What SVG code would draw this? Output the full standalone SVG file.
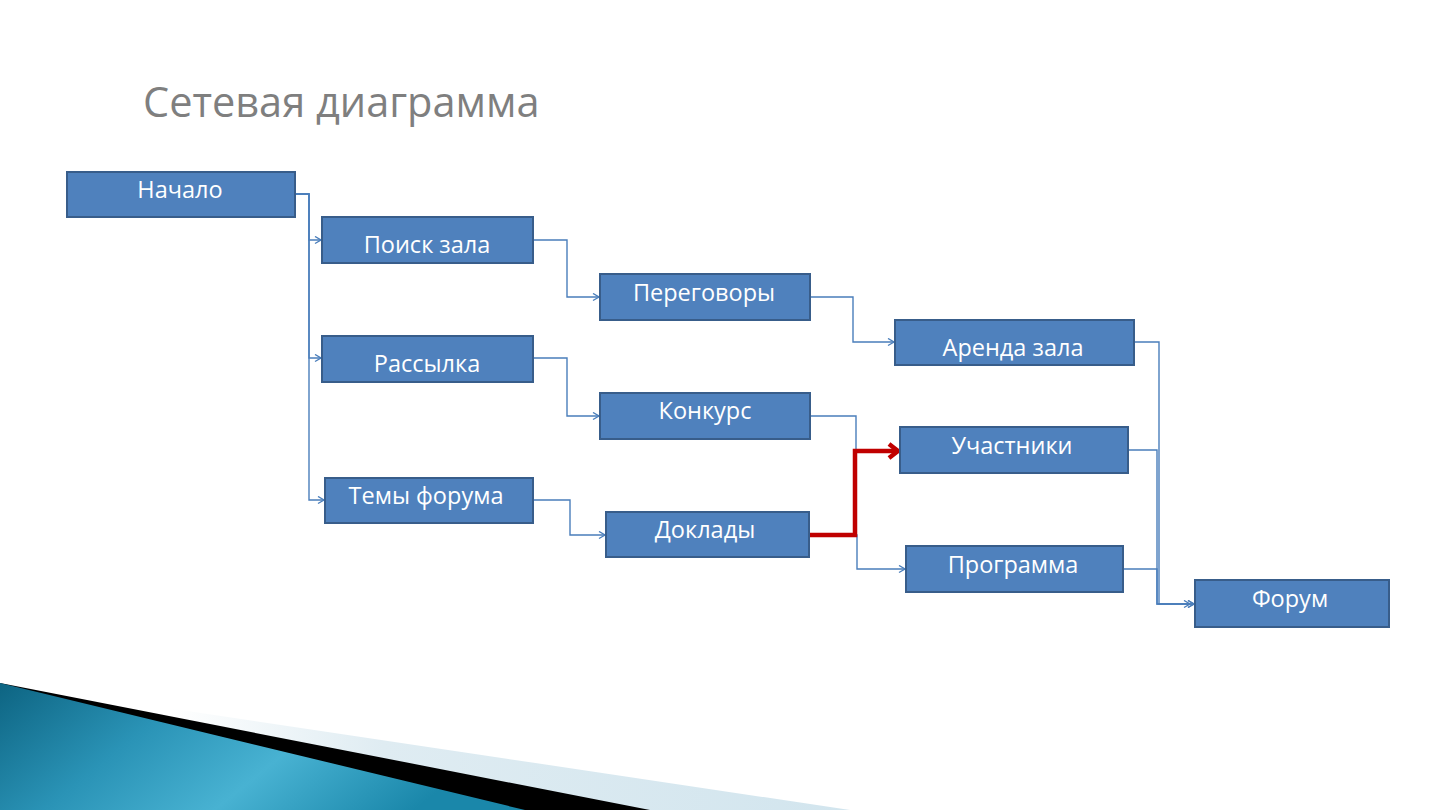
<svg xmlns="http://www.w3.org/2000/svg" width="1440" height="810" viewBox="0 0 1440 810">
<style>
.node rect{fill:#4f81bd;stroke:#385d8a;stroke-width:2}
.node text{fill:#ffffff;font-family:"Open Sans","Liberation Sans",sans-serif;font-size:23.5px;text-anchor:middle}
.title{fill:#7f7f7f;font-family:"Open Sans","Liberation Sans",sans-serif;font-size:41.5px}
.c{fill:none;stroke:#4a7ebb;stroke-width:1.4;marker-end:url(#ah)}
.crit{fill:none;stroke:#c00000;stroke-width:4.5;marker-end:url(#ahr)}
</style>
<defs>
<marker id="ah" markerUnits="userSpaceOnUse" markerWidth="10" markerHeight="10" refX="7" refY="4" orient="auto">
<path d="M1,0.5 L7,4 L1,7.5" fill="none" stroke="#4a7ebb" stroke-width="1.4"/>
</marker>
<marker id="ahr" markerUnits="userSpaceOnUse" markerWidth="20" markerHeight="20" refX="12" refY="9" orient="auto">
<path d="M3,2 L12,9 L3,16" fill="none" stroke="#c00000" stroke-width="4.5"/>
</marker>
<linearGradient id="lb" x1="0" y1="0" x2="1" y2="0">
<stop offset="0" stop-color="#ffffff"/>
<stop offset="0.2" stop-color="#ffffff"/>
<stop offset="0.45" stop-color="#dfecf2"/>
<stop offset="1" stop-color="#d2e5ee"/>
</linearGradient>
<linearGradient id="bg" x1="0" y1="0" x2="1" y2="0.3">
<stop offset="0" stop-color="#0d6482"/>
<stop offset="0.35" stop-color="#2a93b6"/>
<stop offset="0.65" stop-color="#48b2d2"/>
<stop offset="1" stop-color="#1a87aa"/>
</linearGradient>
</defs>
<rect width="1440" height="810" fill="#ffffff"/>
<text class="title" x="143" y="117">Сетевая диаграмма</text>
<g id="connectors">
<path class="c" d="M295,194 H309 V240 H321"/>
<path class="c" d="M295,194 H309 V358 H321"/>
<path class="c" d="M295,194 H309 V500 H324"/>
<path class="c" d="M533,240 H567 V297 H599"/>
<path class="c" d="M533,358 H567 V416 H599"/>
<path class="c" d="M533,500 H570 V535 H605"/>
<path class="c" d="M810,297 H853 V342 H894"/>
<path class="c" d="M810,416 H856 V451 H899"/>
<path class="c" d="M809,535 H857 V569 H905"/>
<path class="c" d="M1134,342 H1159 V604 H1194"/>
<path class="c" d="M1128,450 H1157 V604 H1190"/>
<path class="c" d="M1123,569 H1157 V604 H1194"/>
<path class="crit" d="M809,535 H855 V451 H898"/>
</g>
<g id="n-nachalo" class="node"><rect x="67" y="172" width="228" height="45"/><text x="180" y="198">Начало</text></g>
<g id="n-poisk" class="node"><rect x="322" y="217" width="211" height="46"/><text x="427" y="253">Поиск зала</text></g>
<g id="n-peregovory" class="node"><rect x="600" y="274" width="210" height="46"/><text x="704" y="301">Переговоры</text></g>
<g id="n-arenda" class="node"><rect x="895" y="320" width="239" height="45"/><text x="1013" y="356">Аренда зала</text></g>
<g id="n-rassylka" class="node"><rect x="322" y="336" width="211" height="46"/><text x="427" y="372">Рассылка</text></g>
<g id="n-konkurs" class="node"><rect x="600" y="393" width="210" height="46"/><text x="705" y="419">Конкурс</text></g>
<g id="n-uchastniki" class="node"><rect x="900" y="427" width="228" height="46"/><text x="1012" y="454">Участники</text></g>
<g id="n-temy" class="node"><rect x="325" y="478" width="208" height="45"/><text x="426" y="504">Темы форума</text></g>
<g id="n-doklady" class="node"><rect x="606" y="512" width="203" height="45"/><text x="705" y="538">Доклады</text></g>
<g id="n-programma" class="node"><rect x="906" y="546" width="217" height="46"/><text x="1013" y="573">Программа</text></g>
<g id="n-forum" class="node"><rect x="1195" y="580" width="194" height="47"/><text x="1290" y="607">Форум</text></g>
<g id="decor">
<polygon points="0,683 850,810 0,810" fill="url(#lb)"/>
<polygon points="0,683 650,810 0,810" fill="#000000"/>
<polygon points="0,683 525,810 0,810" fill="url(#bg)"/>
</g>
</svg>
